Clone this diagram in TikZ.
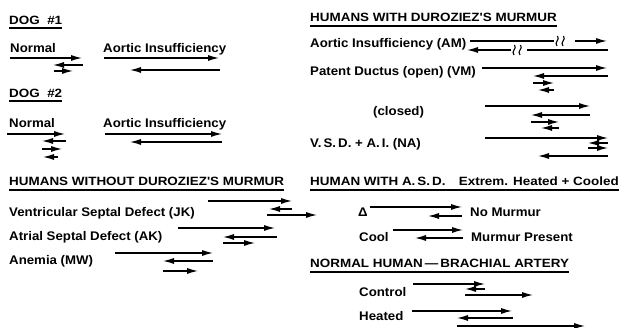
\documentclass[tikz,border=0pt]{standalone}
\usepackage{fontspec}
\setmainfont{Liberation Sans}[FakeStretch=1.06,UprightFont=*-Bold]
\newfontfamily\hdfont{Liberation Sans}[FakeStretch=1.12,UprightFont=*-Bold]
\usetikzlibrary{arrows.meta}
\begin{document}
\begin{tikzpicture}[x=1pt,y=-1pt,
  lbl/.style={anchor=base west,inner sep=0pt,font=\fontsize{12.5}{15}\selectfont},
  hd/.style={anchor=base west,inner sep=0pt,font=\hdfont\fontsize{12}{14}\selectfont},
  ul/.style={line width=1.5pt},
  ar/.style={-{Latex[length=11pt,width=6pt]},line width=1.25pt},
  ln/.style={line width=1.25pt},
  sq/.style={line width=1.1pt}]
\useasboundingbox (0,0) rectangle (622,328);
% ---------- left column ----------
\node[hd] (dog1) at (9,25) {DOG\ \ \#1};
\draw[ul] ([yshift=-3pt]dog1.base west) -- ([yshift=-3pt]dog1.base east);
\node[lbl] (n1) at (10,53) {Normal};
\node[lbl] (ai1) at (103,53) {Aortic\ Insufficiency};
\draw[ar] (10,58) -- (82,58);
\draw[ar] (83,65) -- (53,65);
\draw[ar] (54,71) -- (73,71);
\draw[ar] (104,58) -- (219,58);
\draw[ar] (220,70) -- (130,70);

\node[hd] (dog2) at (9,98) {DOG\ \ \#2};
\draw[ul] ([yshift=-3pt]dog2.base west) -- ([yshift=-3pt]dog2.base east);
\node[lbl] (n2) at (9,128) {Normal};
\node[lbl] (ai2) at (103,128) {Aortic\ Insufficiency};
\draw[ar] (7,134) -- (65,134);
\draw[ar] (66,141) -- (42,141);
\draw[ar] (42,149) -- (62,149);
\draw[ar] (58,157) -- (43,157);
\draw[ar] (105,134) -- (222,134);
\draw[ar] (222,142) -- (130,142);

\node[hd] (hwo) at (9,186) {HUMANS WITHOUT DUROZIEZ'S MURMUR};
\draw[ul] ([yshift=-4pt]hwo.base west) -- ([yshift=-4pt]hwo.base east);
\node[lbl] (vsd) at (9,217) {Ventricular Septal Defect (JK)};
\node[lbl] (asd) at (9,241) {Atrial Septal Defect (AK)};
\node[lbl] (ane) at (9,265) {Anemia (MW)};
\draw[ar] (208,201) -- (292,201);
\draw[ar] (292,209) -- (269,209);
\draw[ar] (267,215) -- (317,215);
\draw[ar] (178,228) -- (275,228);
\draw[ar] (277,237) -- (223,237);
\draw[ar] (223,243) -- (255,243);
\draw[ar] (115,253) -- (213,253);
\draw[ar] (213,261) -- (163,261);
\draw[ar] (163,271) -- (198,271);

% ---------- right column ----------
\node[hd] (hw) at (310,22) {HUMANS WITH DUROZIEZ'S MURMUR};
\draw[ul] ([yshift=-4pt]hw.base west) -- ([yshift=-4pt]hw.base east);
\node[lbl] (am) at (310,48) {Aortic Insufficiency (AM)};
\draw[ln] (470,41) -- (554,41);
\foreach \x in {557,563}
  \draw[sq] (\x,46) .. controls (\x-3.5,42) and (\x+3.5,40) .. (\x+0.5,36);
\draw[ar] (575,41) -- (607,41);
\draw[ar] (511,50) -- (467,50);
\foreach \x in {514,520}
  \draw[sq] (\x,55) .. controls (\x-3.5,51) and (\x+3.5,49) .. (\x+0.5,45);
\draw[ln] (527,50) -- (608,50);

\node[lbl] (pd) at (310,76) {Patent Ductus (open) (VM)};
\draw[ar] (482,68) -- (607,68);
\draw[ar] (608,76) -- (533,76);
\draw[ar] (533,83) -- (554,83);
\draw[ar] (554,90) -- (538,90);

\node[lbl] (cl) at (373,116) {(closed)};
\draw[ar] (485,106) -- (590,106);
\draw[ar] (590,115) -- (531,115);
\draw[ar] (531,122) -- (559,122);
\draw[ar] (559,128) -- (541,128);

\node[lbl] (na) at (310,148) {V.\,S.\,D. + A.\,I. (NA)};
\draw[ar] (485,138) -- (608,138);
\draw[ar] (608,143) -- (588,143);
\draw[ar] (588,148) -- (608,148);
\draw[ar] (608,156) -- (538,156);

\node[hd] (has) at (310,186) {HUMAN WITH A.\,S.\,D.};
\node[hd,anchor=base east] (ext) at (619,186) {Extrem. Heated + Cooled};
\draw[ul] ([yshift=-4pt]has.base west) -- ([yshift=-4pt]ext.base east);
\node[lbl] (dl) at (358,217) {Δ};
\node[lbl] (nm) at (470,217) {No Murmur};
\draw[ar] (370,207) -- (462,207);
\draw[ar] (462,216) -- (428,216);
\node[lbl] (co) at (359,242) {Cool};
\node[lbl] (mp) at (471,242) {Murmur Present};
\draw[ar] (393,230) -- (463,230);
\draw[ar] (463,238) -- (415,238);

\node[hd] (nh) at (310,268) {NORMAL HUMAN\,—\,BRACHIAL ARTERY};
\draw[ul] ([yshift=-4pt]nh.base west) -- ([yshift=-4pt]nh.base east);
\node[lbl] (ct) at (359,297) {Control};
\draw[ar] (413,284) -- (485,284);
\draw[ar] (485,289) -- (465,289);
\draw[ar] (465,295) -- (533,295);
\node[lbl] (ht) at (359,321) {Heated};
\draw[ar] (412,311) -- (512,311);
\draw[ar] (513,318) -- (457,318);
\draw[ar] (457,326) -- (585,326);
\end{tikzpicture}
\end{document}
